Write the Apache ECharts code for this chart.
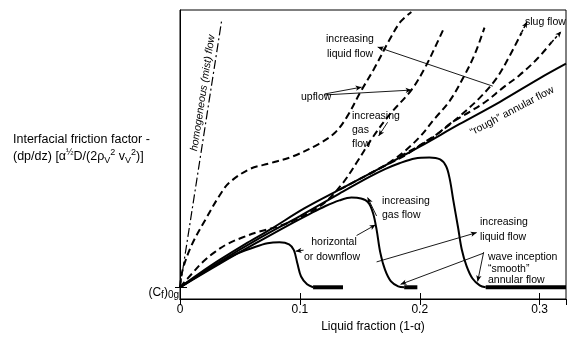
<!DOCTYPE html>
<html><head><meta charset="utf-8">
<script src="https://cdn.jsdelivr.net/npm/echarts@6.0.0/dist/echarts.min.js"></script>
<style>html,body{margin:0;padding:0;background:#fff}#c{width:574px;height:338px}</style>
</head><body><div id="c"></div>
<script>
// ---- data (x = liquid fraction, y = friction factor in arbitrary units) ----
const xTicks = [0, 0.1, 0.2, 0.3];
const xMax = 0.322;
const yMax = 296;
const cf0g = 12;
const mistFlow = [[0,12],[0.0346,284]];
const roughAnnular = [[0,12],[0.016,26],[0.033,40],[0.054,56],[0.075,71],[0.104,93],[0.133,112],[0.167,134],[0.200,156],[0.233,179],[0.267,202],[0.300,226],[0.322,241]];
const horiz1 = [[0,12],[0.025,31],[0.045,45],[0.062,53],[0.073,57],[0.083,58],[0.091,56],[0.095,50],[0.098,36],[0.101,23],[0.106,15],[0.111,12]];
const horiz2 = [[0,12],[0.033,36],[0.066,59],[0.091,76],[0.108,87],[0.121,95],[0.133,101],[0.143,104],[0.151,103],[0.157,99],[0.161,88],[0.164,71],[0.167,48],[0.171,30],[0.176,18],[0.182,13],[0.187,12]];
const horiz3 = [[0,12],[0.033,38],[0.066,62],[0.100,85],[0.133,108],[0.158,125],[0.171,133],[0.183,139],[0.196,144],[0.208,145],[0.217,143],[0.222,136],[0.225,123],[0.228,101],[0.232,73],[0.235,51],[0.239,34],[0.244,21],[0.250,14],[0.255,12]];
const smoothFlat1 = [[0.111,12],[0.136,12]];
const smoothFlat2 = [[0.187,12],[0.198,12]];
const smoothFlat3 = [[0.255,12],[0.322,12]];
const upflowA = [[0,12],[0.002,29],[0.010,56],[0.022,83],[0.033,106],[0.041,119],[0.058,133],[0.075,139],[0.094,146],[0.116,159],[0.129,170],[0.139,186],[0.151,213],[0.162,236],[0.175,266],[0.184,284],[0.193,294]];
const upflowB = [[0,12],[0.010,26],[0.019,38],[0.029,48],[0.039,56],[0.052,63],[0.066,69],[0.081,74],[0.096,81],[0.110,90],[0.122,100],[0.136,119],[0.147,139],[0.161,166],[0.175,189],[0.193,214],[0.204,236],[0.214,261],[0.220,277]];
const upflowC = [[0.133,112],[0.150,123],[0.162,131],[0.175,140],[0.187,151],[0.200,166],[0.212,184],[0.225,203],[0.236,226],[0.246,251],[0.254,278]];
const upflowD = [[0.158,128],[0.175,139],[0.189,148],[0.202,159],[0.217,171],[0.233,187],[0.250,206],[0.264,226],[0.275,249],[0.285,273]];
const upflowE = [[0.183,146],[0.208,163],[0.227,181],[0.242,192],[0.256,203],[0.269,216],[0.283,229],[0.298,246],[0.310,263]];
// annotation arrows [from, to, curveness]
const arrowsSolid = [
  [[0.2609,218],[0.1649,258],0],
  [[0.1206,210],[0.1515,217],-0.15],
  [[0.1206,209],[0.1932,214],-0.1],
  [[0.1732,181],[0.1657,167],0],
  [[0.1640,85],[0.1565,104],0.2],
  [[0.1473,65],[0.1632,76],0],
  [[0.1031,50],[0.0964,49],0],
  [[0.164,38],[0.2475,68],0],
  [[0.2533,48],[0.2483,18],0.05],
  [[0.2533,47],[0.184,15],-0.05]
];
const arrowsDashed = [
  [[0.285,273],[0.2895,284],0],
  [[0.310,263],[0.318,274],0]
];

const FONT = '"Liberation Sans", Arial, Helvetica, sans-serif';
const chart = echarts.init(document.getElementById('c'), null, {renderer:'canvas'});

function lineSeries(data, opts) {
  return Object.assign({
    type:'line', data: data, symbol:'none', smooth:0.35, smoothMonotone:'none',
    silent:true, xAxisIndex:0, yAxisIndex:0,
    lineStyle:{color:'#000', width:2}
  }, opts);
}
function arrowSeries(list, dashed) {
  return {
    type:'line', data:[], xAxisIndex:0, yAxisIndex:0, silent:true,
    markLine:{
      silent:true, symbol:['none','arrow'], symbolSize:[4,6], label:{show:false},
      animation:false,
      lineStyle:{color:'#000', width:dashed?1.5:0.9, type:dashed?[3,2]:'solid'},
      itemStyle:{color:'#000'},
      emphasis:{disabled:true},
      data: list.map(a => [{coord:a[0], lineStyle:{curveness:a[2]}}, {coord:a[1]}])
    }
  };
}

function T(text, x, y, extra) {
  extra = extra || {};
  const st = Object.assign({text:text, fill:'#000', font:'10.5px ' + FONT, align:'left', verticalAlign:'middle'}, extra.style || {});
  const el = {type:'text', x:x, y:y, silent:true, style:st};
  if (extra.rotation) el.rotation = extra.rotation;
  return el;
}

const option = {
  animation:false,
  backgroundColor:'#fff',
  grid:{left:180, right:8, top:10, bottom:32, show:true, borderColor:'#000', borderWidth:1, containLabel:false},
  xAxis:[
    {type:'value', min:0, max:xMax, interval:0.1, position:'bottom',
     axisLine:{show:true, lineStyle:{color:'#000', width:1}},
     axisTick:{show:true, inside:true, length:6, lineStyle:{color:'#000'}},
     axisLabel:{show:true, color:'#000', fontFamily:FONT, fontSize:12, margin:5, showMaxLabel:false,
       formatter:v => xTicks.indexOf(Math.round(v*10)/10)>=0 && Math.abs(v*10-Math.round(v*10))<1e-6 ? (v===0?'0':v.toFixed(1)) : ''},
     splitLine:{show:false},
     name:'Liquid fraction (1-\u03b1)', nameLocation:'middle', nameGap:22,
     nameTextStyle:{color:'#000', fontFamily:FONT, fontSize:12}},
    {type:'value', min:0, max:xMax, interval:0.1, position:'top',
     axisLine:{show:true, lineStyle:{color:'#000', width:1}},
     axisTick:{show:true, inside:true, length:6, lineStyle:{color:'#000'}},
     axisLabel:{show:false}, splitLine:{show:false}}
  ],
  yAxis:[
    {type:'value', min:0, max:yMax, position:'left',
     axisLine:{show:true, lineStyle:{color:'#000', width:1}},
     axisTick:{show:true, inside:false, length:5, customValues:[cf0g], lineStyle:{color:'#000'}},
     axisLabel:{show:true, customValues:[cf0g], margin:1, color:'#000', padding:[10,0,0,0],
       formatter:() => '{n|(C}{s|f}{n|)}{s|0g}',
       rich:{n:{fontFamily:FONT, fontSize:12, lineHeight:16, verticalAlign:'middle', color:'#000'},
             s:{fontFamily:FONT, fontSize:10, lineHeight:10, verticalAlign:'bottom', color:'#000'}}},
     splitLine:{show:false}},
    {type:'value', min:0, max:yMax, position:'left',
     axisLine:{show:false},
     axisTick:{show:true, inside:true, length:7, customValues:[cf0g], lineStyle:{color:'#000'}},
     axisLabel:{show:false}, splitLine:{show:false}}
  ],
  series:[
    lineSeries(mistFlow, {smooth:false, lineStyle:{color:'#000', width:1.2, type:[9,3,2,3]}}),
    lineSeries(roughAnnular, {lineStyle:{color:'#000', width:2}}),
    lineSeries(horiz1), lineSeries(horiz2), lineSeries(horiz3),
    lineSeries(smoothFlat1, {smooth:false, lineStyle:{color:'#000', width:4}}),
    lineSeries(smoothFlat2, {smooth:false, lineStyle:{color:'#000', width:4}}),
    lineSeries(smoothFlat3, {smooth:false, lineStyle:{color:'#000', width:4}}),
    lineSeries(upflowA, {lineStyle:{color:'#000', width:2, type:[7,4]}}),
    lineSeries(upflowB, {lineStyle:{color:'#000', width:2, type:[7,4]}}),
    lineSeries(upflowC, {lineStyle:{color:'#000', width:2, type:[7,4]}}),
    lineSeries(upflowD, {lineStyle:{color:'#000', width:2, type:[7,4]}}),
    lineSeries(upflowE, {lineStyle:{color:'#000', width:2, type:[7,4]}}),
    arrowSeries(arrowsSolid, false),
    arrowSeries(arrowsDashed, true)
  ],
  graphic:[
    T('Interfacial friction factor -', 13, 140, {style:{font:'12.5px ' + FONT}}),
    {type:'text', x:13, y:157, silent:true, style:{
      text:'{n|(dp/dz) [\u03b1}{sup|\u00bd}{n|D/(2\u03c1}{sub|V}{sup|2}{n| v}{sub|V}{sup|2}{n|)]}',
      verticalAlign:'middle', align:'left',
      rich:{n:{fontFamily:FONT, fontSize:12.5, lineHeight:17, fill:'#000'},
            sup:{fontFamily:FONT, fontSize:9, lineHeight:9, verticalAlign:'top', fill:'#000'},
            sub:{fontFamily:FONT, fontSize:9, lineHeight:9, verticalAlign:'bottom', fill:'#000'}}}},
    T('homogeneous (mist) flow', 203, 93, {rotation:81.4*Math.PI/180, style:{font:'italic 10.5px ' + FONT, align:'center'}}),
    T('increasing', 326, 39), T('liquid flow', 327, 54),
    T('upflow', 301, 97),
    T('increasing', 352, 116), T('gas', 352, 130), T('flow', 352, 144),
    T('\u201crough\u201d annular flow', 512, 111, {rotation:28*Math.PI/180, style:{align:'center'}}),
    T('slug flow', 525, 22),
    T('increasing', 382, 201), T('gas flow', 382, 215),
    T('horizontal', 334, 242, {style:{align:'center'}}), T('or downflow', 332, 257, {style:{align:'center'}}),
    T('increasing', 480, 222), T('liquid flow', 480, 237),
    T('wave inception', 488, 257), T('\u201csmooth\u201d', 488, 269), T('annular flow', 488, 280)
  ]
};
chart.setOption(option);
</script>
</body></html>
